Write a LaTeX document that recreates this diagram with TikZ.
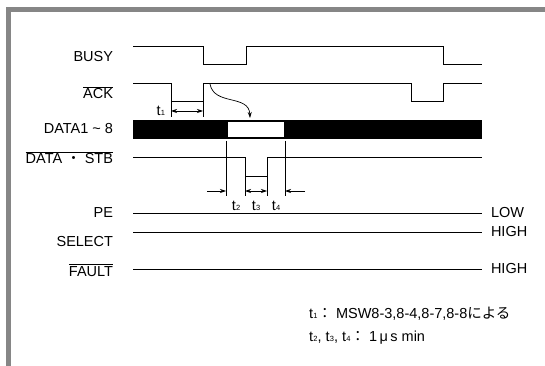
\documentclass[tikz,border=0pt]{standalone}
\usepackage{fontspec}
\setmainfont{Liberation Sans}
\newfontfamily\jpfont{Noto Sans CJK JP}
\usetikzlibrary{arrows.meta}
\newcommand\ovl[1]{$\overline{\mbox{#1}}$}
\newcommand\tsub[1]{t\kern0.3pt{\fontsize{7.5}{8}\selectfont #1}}
\tikzset{siglabel/.style={anchor=base east},
  levellabel/.style={anchor=west},
  wave/.style={line width=0.9pt},
  timetick/.style={line width=0.7pt},
  dimarrow/.style={line width=0.7pt,-{Stealth[length=6pt,width=4pt]}},
  dimboth/.style={line width=0.7pt,{Stealth[length=6pt,width=4pt]}-{Stealth[length=6pt,width=4pt]}}
}

\begin{document}
\begin{tikzpicture}[x=1pt,y=-1pt,every node/.style={inner sep=0,outer sep=0,font=\fontsize{14.5}{16}\selectfont}]
\useasboundingbox (0,0) rectangle (545,366);
% Frame
\fill[gray!95] (6,7) rectangle (545,12);
\fill[gray!95] (6,7) rectangle (11,366);
% Labels
\node[siglabel] (busy) at (113,62) {BUSY};
\node[siglabel] (ack) at (113,99) {\ovl{ACK}};
\node[siglabel] (data) at (113,134) {DATA1 \textasciitilde\ 8};
\node[siglabel] (stb) at (113,164) {\ovl{DATA {\jpfont ・} STB}};
\node[siglabel] (pe) at (113,217) {PE};
\node[siglabel] (select) at (113,246) {SELECT};
\node[siglabel] (fault) at (113,276) {\ovl{FAULT}};
% BUSY
\draw[wave] (133,46) -- (203,46) -- (203,64) -- (246,64) -- (246,46) -- (443,46) -- (443,64) -- (482,64);
% ACK
\draw[wave] (133,83) -- (171,83) -- (171,101) -- (203,101) -- (203,83) -- (411,83) -- (411,101) -- (443,101) -- (443,83) -- (482,83);
\coordinate (ackfall) at (171,111);
\coordinate (ackrise) at (203,111);
\draw[timetick] (171,101) -- (171,117);
\draw[timetick] (203,101) -- (203,117);
\draw[dimboth] (ackfall) -- (ackrise);
\node[anchor=base east] (tone) at (165,116) {\tsub{1}};
% DATA1~8
\fill (133,120) rectangle (482,139);
\fill[white] (227.5,122) rectangle (283.5,137);
\coordinate (ackedge) at (210,84);
\coordinate (datawin) at (250,118);
\draw[line width=0.7pt,-{Stealth[length=6pt,width=4pt]}] (ackedge) .. controls (214,106) and (249,94) .. (datawin);
% DATA.STB
\draw[wave] (133,157) -- (245,157) -- (245,176) -- (267,176) -- (267,157) -- (482,157);
\draw[timetick] (226,141) -- (226,196);
\draw[timetick] (285,141) -- (285,196);
\draw[timetick] (245,176) -- (245,196);
\draw[timetick] (267,176) -- (267,196);
\coordinate (tleft) at (207,191);
\coordinate (tright) at (305,191);
\draw[dimarrow] (tleft) -- (226,191);
\draw[dimboth] (245,191) -- (267,191);
\draw[dimarrow] (tright) -- (285,191);
\node[anchor=base] (ttwo) at (236,210) {\tsub{2}};
\node[anchor=base] (tthree) at (256,210) {\tsub{3}};
\node[anchor=base] (tfour) at (276,210) {\tsub{4}};
% PE, SELECT, FAULT
\draw[wave] (133,213) -- (482,213) node[levellabel,xshift=9pt] (low) {LOW};
\draw[wave] (133,232) -- (482,232) node[levellabel,xshift=9pt] (highsel) {HIGH};
\draw[wave] (133,269) -- (482,269) node[levellabel,xshift=9pt] (highflt) {HIGH};
% Notes
\node[anchor=base west] (note1) at (309,318) {\tsub{1}{\jpfont ：} MSW8-3,8-4,8-7,8-8{\jpfont による}};
\node[anchor=base west] (note2) at (309,341) {\tsub{2}, \tsub{3}, \tsub{4}{\jpfont ：} 1\,μ\,s min};
\end{tikzpicture}
\end{document}
